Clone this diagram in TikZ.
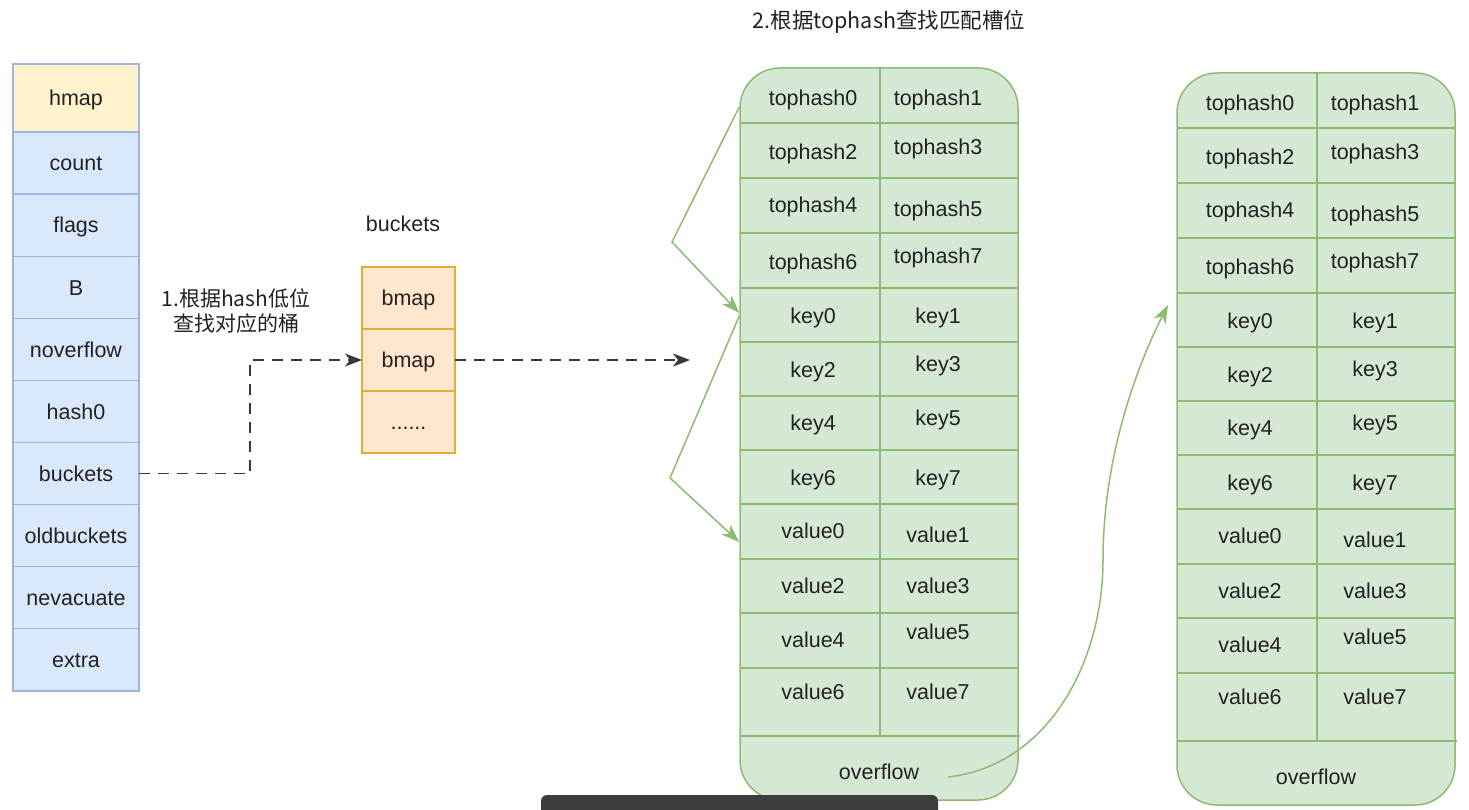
\documentclass[tikz,border=0pt]{standalone}
\usepackage{fontspec}
\setmainfont{Liberation Sans}
\newfontfamily\cjk{Noto Sans CJK SC}
\usetikzlibrary{positioning,arrows.meta,calc}

\definecolor{hmapfill}{HTML}{FFF2CC}
\definecolor{fieldfill}{HTML}{DAE8FC}
\definecolor{fieldline}{HTML}{9DB6DC}
\definecolor{bmapfill}{HTML}{FFE6CC}
\definecolor{bmapline}{HTML}{E3AC3C}
\definecolor{slotfill}{HTML}{D5E8D4}
\definecolor{slotline}{HTML}{8DBB72}
\definecolor{inkgray}{HTML}{222222}
\definecolor{barcolor}{HTML}{3C3C3C}

\tikzset{
  field/.style={draw=fieldline, fill=fieldfill, line width=1.2pt, minimum width=126pt,
    minimum height=62.1pt, inner sep=0pt, outer sep=0pt, text=inkgray,
    text height=15.5pt, text depth=0pt},
  bmap/.style={draw=bmapline, fill=bmapfill, line width=1.5pt, minimum width=93pt,
    minimum height=62pt, inner sep=0pt, outer sep=0pt, text=inkgray,
    text height=15.5pt, text depth=0pt},
  bucketbox/.style={draw=slotline, fill=slotfill, line width=1.5pt, rounded corners=40pt, inner sep=0pt},
  gridline/.style={draw=slotline, line width=1.3pt},
  caption/.style={inner sep=0pt, text=inkgray},
  celltext/.style={caption, text height=15.5pt, text depth=0pt},
  dasharrow/.style={draw=inkgray!90, line width=1.5pt, dash pattern=on 11pt off 8pt,
    -{Stealth[length=17pt,width=13pt,inset=5pt]}},
  greenarrow/.style={draw=slotline, line width=1.5pt, -{Stealth[length=18pt,width=13pt,inset=5pt]}},
}

% one bucket: name, left x, top y
\newcommand{\hashbucket}[3]{%
  \begin{scope}[shift={(#2,#3)}]
    \node[bucketbox, minimum width=278pt, minimum height=732pt] (#1) at (139,366) {};
    \draw[gridline] (140,0) -- (140,668);
    \foreach \y in {55,110,165,220,274,328,382,436,491,545,600}
      \draw[gridline] (0,\y) -- (278,\y);
    \draw[gridline] (0,668) -- (280,668);
    \foreach \yl/\yr/\a/\b in {30/30/tophash0/tophash1, 84/79/tophash2/tophash3,
        137/141/tophash4/tophash5, 194/188/tophash6/tophash7,
        248/248/key0/key1, 302/296/key2/key3, 355/350/key4/key5, 410/410/key6/key7,
        463/467/value0/value1, 518/518/value2/value3, 572/564/value4/value5,
        624/624/value6/value7}{
      \node[celltext] (#1-\a) at (73,\yl) {\a};
      \node[celltext] (#1-\b) at (198,\yr) {\b};
    }
    \node[celltext] (#1-overflow) at (139,704) {overflow};
  \end{scope}}

\begin{document}
\begin{tikzpicture}[x=1pt, y=-1pt, font=\fontsize{21.5}{26}\selectfont]
  \useasboundingbox (0,0) rectangle (1469,810);

  %% hmap struct
  \node[field, fill=hmapfill, minimum height=68pt] (hmap) at (76,98) {hmap};
  \foreach \name [remember=\name as \prev (initially hmap)] in
      {count,flags,B,noverflow,hash0,buckets,oldbuckets,nevacuate,extra}
    \node[field, below=0pt of \prev] (\name) {\name};

  %% bucket array
  \node[celltext] (bucketslabel) at (403,224) {buckets};
  \node[bmap] (bmap1) at (408.5,298) {bmap};
  \node[bmap, below=0pt of bmap1] (bmap2) {bmap};
  \node[bmap, below=0pt of bmap2] (bdots) {......};
  \node[caption, align=center, font=\cjk\fontsize{21}{25}\selectfont] (lowbits) at (236,311)
    {1.根据hash低位\\查找对应的桶};

  \draw[dasharrow] (buckets.east) -- ++(111,0) |- (bmap2.west);
  \coordinate (slotin) at (690,360);
  \draw[dasharrow] (bmap2.east) -- (slotin);

  %% buckets
  \node[caption, font=\cjk\fontsize{21.5}{26}\selectfont] (findslot) at (889,22)
    {2.根据tophash查找匹配槽位};
  \hashbucket{bucketA}{740}{68}
  \hashbucket{bucketB}{1177}{73}

  %% tophash -> key -> value
  \coordinate (fanA) at (672,242);
  \coordinate (fanB) at (670,478);
  \draw[greenarrow] ($(bucketA.west |- bucketA-tophash0)+(0,9)$) -- (fanA)
    -- ($(bucketA.west |- bucketA-key0)+(0,-3)$);
  \draw[greenarrow] (bucketA.west |- bucketA-key0) -- (fanB)
    -- ($(bucketA.west |- bucketA-value0)+(0,11)$);

  %% overflow chain
  \coordinate (chainin) at (1168,305);
  \draw[greenarrow] ($(bucketA-overflow.east)+(29,5)$) .. controls (1050,765) and (1103,660)
    .. (1103,560) .. controls (1103,460) and (1135,370) .. (chainin);

  \fill[barcolor, rounded corners=6pt] (541,795) rectangle (938,830);
\end{tikzpicture}
\end{document}
